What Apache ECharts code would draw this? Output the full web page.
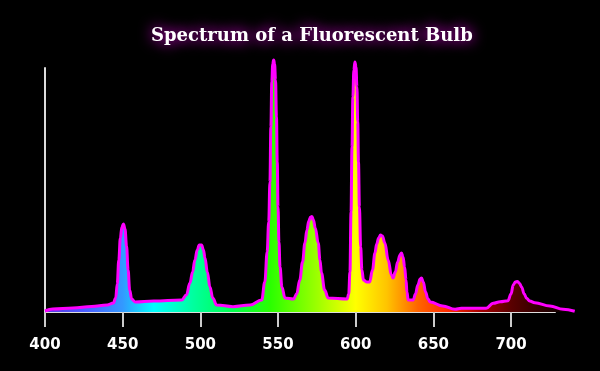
<!DOCTYPE html>
<html>
<head>
<meta charset="utf-8">
<script src="https://cdn.jsdelivr.net/npm/echarts@6/dist/echarts.min.js"></script>
<style>
html,body{margin:0;padding:0;background:#000;}
#c{width:600px;height:371px;}
</style>
</head>
<body>
<div id="c"></div>
<script>
// Wavelength (nm) samples and relative intensity
var wavelengths = [400,405,418,430,440,444,445.5,446.5,447.5,448.5,449.5,450.5,451.5,452.5,453.5,454.5,455.8,458,470,488,491,493.3,495,496.5,498,499.3,500.8,502,503,504.5,506.2,508,510.5,521,532,539.5,541.5,543,544,544.8,545.4,546,546.6,547.2,547.8,548.4,549,549.5,550,550.6,551.3,552.5,554.5,560,562,564,565.8,567.3,568.6,569.8,571,571.8,572.8,574,575.9,577,578,580,582.3,594.5,595.5,596.3,597,597.6,598.2,598.8,599.5,600.2,600.8,601.3,601.8,602.4,603.2,604,605,607,609,610.8,612.4,613.5,614.8,616,617.2,618.8,620.9,623,624.1,625.5,627,628.5,629.5,630.5,631.5,632.4,633,633.8,637,638.5,640,641.5,642.4,643.5,645,646.5,648,656,664,668,684,688.5,693,698,700,701.4,702.8,704.2,705.5,706.8,708.5,710,712,715.3,725,733.5,741];
var intensity   = [1,3,4,5.5,7,9,14,28,52,74,85,88,83,66,42,22,13,10,11,12,17,29,40,52,62,67,67,62,54,40,25,14,7,5.3,7,12,30,60,90,130,185,230,248,252,248,232,195,150,105,70,45,25,14,13,18,32,50,69,82,91,95,95.5,92,84,69,52,39,22,14,13,18,40,100,165,215,242,250,245,225,190,150,105,65,42,32,30,30,42,59,68,74,77,76,69,52,37,34,40,50,57,59,55,45,32,20,12,12,18,27,33,34,30,20,13,10,6,2.7,3.7,3.7,8.7,10.3,11.3,18,27,30,30.5,28.5,25,18,13.7,11,9.3,6,2.7,0.7];
var xTicks = [400,450,500,550,600,650,700];
var xMin = 400, xMax = 728.3, yMax = 244;

// spectrum colour stops (nm -> colour)
var stopNm    = [400,425,450,470,495,520,545,575,600,620,640,660,680,700,720,741];
var stopColor = ['#5a36e0','#4a5cff','#3399ff','#00ffff','#00ffa0','#00ff50','#2aff00','#9cff00','#ffff00','#ffc400','#ff6400','#ff2a00','#a80000','#5a0000','#2c0000','#000000'];

var lastNm = wavelengths[wavelengths.length-1];
var stops = stopNm.map(function(n,i){return {offset:(n-xMin)/(lastNm-xMin), color:stopColor[i]};});

var chart = echarts.init(document.getElementById('c'));
var gx0 = 45, gw = 510, gTop = 68, gH = 244;
var gwData = (lastNm - xMin) / (xMax - xMin) * gw;

chart.setOption({
  backgroundColor:'#000',
  animation:false,
  title:{
    text:'Spectrum of a Fluorescent Bulb',
    left:146, top:22,
    textStyle:{
      fontFamily:'DejaVu Serif', fontWeight:'bold', fontSize:18, color:'#fff',
      textShadowColor:'#ff00ff', textShadowBlur:14
    }
  },
  grid:[
    {left:gx0, top:gTop, width:gw, height:gH},
    {left:gx0, top:gTop, width:gwData, height:gH}
  ],
  xAxis:[{
    gridIndex:0, type:'value', min:xMin, max:xMax, interval:50,
    axisLine:{show:true, lineStyle:{color:'#dddddd', width:2}},
    axisTick:{show:true, length:15, lineStyle:{color:'#cccccc', width:2}, customValues: xTicks},
    axisLabel:{color:'#fff', fontFamily:'DejaVu Sans', fontWeight:'bold', fontSize:15, margin:26, customValues: xTicks},
    splitLine:{show:false}
  },{
    gridIndex:1, type:'value', min:xMin, max:lastNm, show:false, splitLine:{show:false}
  }],
  yAxis:[{
    gridIndex:0, type:'value', min:0, max:yMax,
    axisLine:{show:true, lineStyle:{color:'#dddddd', width:2}},
    axisTick:{show:false}, axisLabel:{show:false}, splitLine:{show:false}
  },{
    gridIndex:1, type:'value', min:0, max:yMax, show:false, splitLine:{show:false}
  }],
  series:[{
    type:'line', xAxisIndex:0, yAxisIndex:0, data:[], symbol:'none'
  },{
    type:'line', xAxisIndex:1, yAxisIndex:1,
    data: wavelengths.map(function(w,i){return [w,intensity[i]];}),
    smooth:0.4, smoothMonotone:'x',
    symbol:'none', clip:false,
    lineStyle:{color:'#ff00ff', width:3},
    areaStyle:{opacity:1, color:new echarts.graphic.LinearGradient(0,0,1,0,stops)},
    z:1
  }]
});
</script>
</body>
</html>
